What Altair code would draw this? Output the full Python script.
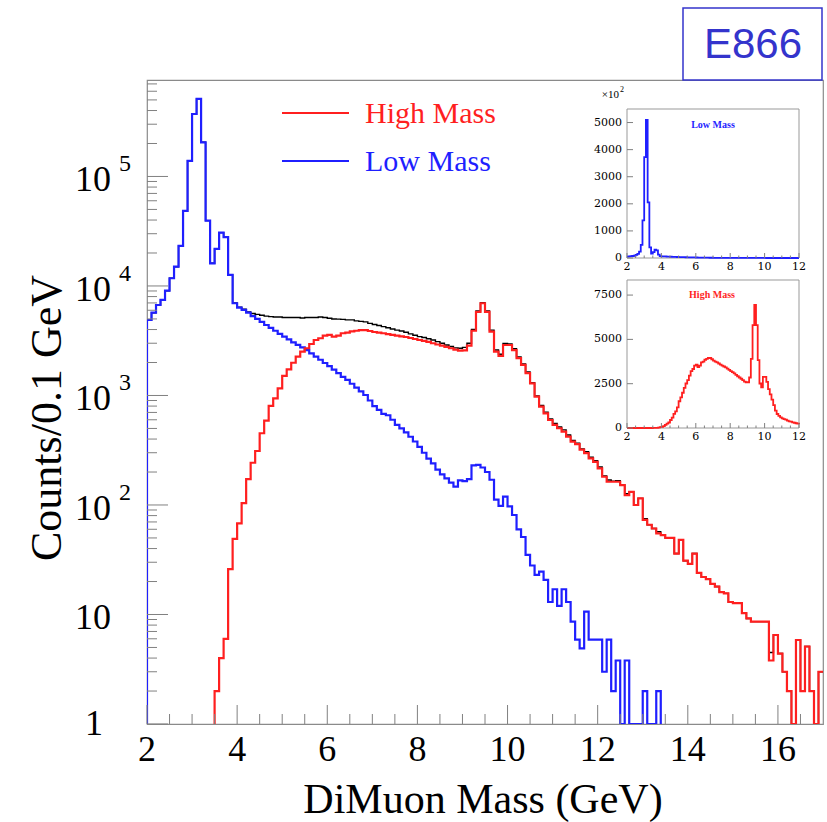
import altair as alt
import pandas as pd

# ---------------- data (0.1 GeV bins, lower edges 2.0 ... 16.9) ----------------
MASS = [round(2.0 + 0.1 * i, 1) for i in range(150)]

LOW_MASS = [
    4890, 5700, 6700, 7450, 9050, 11760, 15000, 23200, 48400, 139000,          # 2.x
    372000, 510000, 205000, 39500, 16100, 21800, 30700, 27900, 12600, 6950,    # 3.x
    6340, 6040, 5700, 5300, 5000, 4700, 4400, 4150, 3900, 3650,                # 4.x
    3450, 3250, 3050, 2900, 2750, 2600, 2420, 2260, 2120, 1980,                # 5.x
    1850, 1720, 1600, 1480, 1390, 1280, 1180, 1090, 1010, 900,                 # 6.x
    800, 740, 680, 660, 600, 540, 500, 460, 420, 380,                          # 7.x
    340, 300, 265, 240, 210, 190, 175, 160, 147, 168,                          # 8.x
    165, 172, 230, 232, 220, 200, 170, 112, 98, 119,                           # 9.x
    97, 81, 60, 51, 35, 28, 23, 24.6, 20.7, 13,                                # 10.x
    17, 12, 17, 13, 8.6, 5.9, 4.9, 10.6, 5.9, 5.9,                             # 11.x
    5.9, 3, 5.9, 2, 3.8, 0, 3.8, 0, 0, 0,                                      # 12.x
    2, 0, 0, 2, 0, 0, 0, 0, 0, 0,                                              # 13.x
    0, 0, 0, 0, 0, 0, 0, 0, 0, 0,                                              # 14.x
    0, 0, 0, 0, 0, 0, 0, 0, 0, 0,                                              # 15.x
    0, 0, 0, 0, 0, 0, 0, 0, 0, 0,                                              # 16.x
]

HIGH_MASS = [
    0, 0, 0, 0, 0, 0, 0, 0, 0, 0,                                              # 2.x
    0, 0, 0, 0, 0, 2, 4, 6, 26, 49,                                            # 3.x
    68, 104, 172, 243, 311, 452, 589, 802, 942, 1160,                          # 4.x
    1510, 1730, 1990, 2260, 2510, 2700, 2950, 3210, 3330, 3520,                # 5.x
    3570, 3440, 3520, 3700, 3750, 3850, 3900, 3950, 3950, 3880,                # 6.x
    3800, 3750, 3700, 3640, 3580, 3520, 3470, 3420, 3350, 3280,                # 7.x
    3210, 3150, 3080, 3000, 2920, 2850, 2780, 2700, 2620, 2570,                # 8.x
    2580, 2850, 3900, 5800, 6950, 5800, 3830, 2510, 2300, 2890,                # 9.x
    2890, 2600, 2190, 1900, 1600, 1290, 975, 790, 687, 597,                    # 10.x
    538, 502, 467, 421, 379, 360, 320, 297, 267, 248,                          # 11.x
    216, 181, 163, 163, 163, 152, 123, 132, 100, 115,                          # 12.x
    73, 66, 61, 55, 53, 50, 50, 36, 48, 31,                                    # 13.x
    29, 36, 24, 22, 21, 19, 18, 16, 15.6, 13,                                  # 14.x
    12.7, 12.7, 10.3, 9.2, 8.6, 8.6, 8.6, 8.6, 3.8, 6.5,                       # 15.x
    4.4, 3.0, 2.0, 0, 5.85, 2, 5.1, 2, 0, 3,                                   # 16.x
]

TOTAL = [
    4890, 5700, 6700, 7450, 9050, 11760, 15000, 23200, 48400, 139000,          # 2.x
    372000, 510000, 205000, 39500, 16100, 21800, 30700, 27900, 12600, 7000,    # 3.x
    6400, 6150, 5800, 5600, 5500, 5400, 5300, 5250, 5200, 5200,                # 4.x
    5150, 5150, 5150, 5150, 5100, 5150, 5150, 5150, 5200, 5150,                # 5.x
    5080, 5000, 4980, 4950, 4900, 4900, 4800, 4750, 4700, 4550,                # 6.x
    4450, 4350, 4250, 4150, 4050, 3950, 3880, 3780, 3650, 3550,                # 7.x
    3450, 3380, 3300, 3210, 3100, 3000, 2890, 2800, 2720, 2700,                # 8.x
    2750, 3000, 4000, 5900, 7050, 5900, 3950, 2600, 2380, 2980,                # 9.x
    2960, 2680, 2250, 1940, 1640, 1310, 990, 810, 705, 610,                    # 10.x
    555, 515, 485, 435, 388, 366, 325, 307, 273, 254,                          # 11.x
    222, 184, 169, 165, 167, 152, 127, 132, 100, 115,                          # 12.x
    75, 66, 61, 57, 53, 50, 50, 36, 48, 31,                                    # 13.x
    29, 36, 24, 22, 21, 19, 18, 16, 15.6, 13,                                  # 14.x
    12.7, 12.7, 10.3, 9.2, 8.6, 8.6, 8.6, 8.6, 4.5, 6.5,                       # 15.x
    4.4, 3.0, 2.0, 1, 5.85, 2, 5.1, 2, 0, 3,                                   # 16.x
]

X_LABELS = [2, 4, 6, 8, 10, 12, 14, 16]
X_MINOR = [2.5, 3, 3.5, 4.5, 5, 5.5, 6.5, 7, 7.5, 8.5, 9, 9.5, 10.5, 11, 11.5,
           12.5, 13, 13.5, 14.5, 15, 15.5, 16.5]
Y_DECADES = [1, 10, 100, 1000, 10000, 100000]
Y_BASE = ["1", "10", "10", "10", "10", "10"]
Y_EXP = ["", "", "2", "3", "4", "5"]
Y_MINOR = [d * k for d in Y_DECADES for k in range(2, 10) if d * k <= 760000]

INSET_X = [2, 4, 6, 8, 10, 12]
INSET_X_MINOR = [2.5, 3, 3.5, 4.5, 5, 5.5, 6.5, 7, 7.5, 8.5, 9, 9.5, 10.5, 11, 11.5]
INSET_LOW_Y = [0, 100000, 200000, 300000, 400000, 500000]
INSET_LOW_YLAB = ["0", "1000", "2000", "3000", "4000", "5000"]
INSET_HIGH_Y = [0, 2500, 5000, 7500]
INSET_HIGH_YLAB = ["0", "2500", "5000", "7500"]

# ---------------- layout / style ----------------
W, H = 676, 644
SERIF = "Liberation Serif"
RED = "#ff1f1f"
BLUE = "#1f1fff"
GREY = "#808080"

XS = alt.Scale(domain=[2, 17], range=[0, W], nice=False, zero=False)
YS = alt.Scale(type="log", domain=[1, 760000], range=[H, 0], clamp=True, nice=False)
IX = alt.Scale(domain=[2, 12], range=[480, 652], nice=False, zero=False)
IY1 = alt.Scale(domain=[0, 550000], range=[178, 29], nice=False, zero=False)
IY2 = alt.Scale(domain=[0, 8350], range=[348, 200], nice=False, zero=False)


def hist_rows(values):
    nz = [k for k, v in enumerate(values) if v > 0]
    first, last = nz[0], nz[-1]
    rows = [{"i": -1, "m": MASS[first], "v": 0}]
    for k in range(first, last + 1):
        rows.append({"i": k, "m": MASS[k], "v": values[k]})
    if last == len(values) - 1:
        rows.append({"i": last + 1, "m": 17.0, "v": values[last]})
    else:
        rows.append({"i": last + 1, "m": MASS[last + 1], "v": 0})
    return pd.DataFrame(rows)


def step(values, color, width):
    return (
        alt.Chart(hist_rows(values))
        .transform_calculate(vp="max(datum.v, 0.3)")
        .mark_line(interpolate="step-after", color=color, strokeWidth=width, clip=True)
        .encode(
            x=alt.X("m:Q", scale=XS, axis=None),
            y=alt.Y("vp:Q", scale=YS, axis=None),
            order="i:Q",
        )
    )


def inset_step(values, yscale, color):
    df = pd.DataFrame({"i": list(range(len(MASS))), "m": MASS, "v": values})
    return (
        alt.Chart(df)
        .transform_filter("datum.m <= 12")
        .mark_line(interpolate="step-after", color=color, strokeWidth=1.8)
        .encode(
            x=alt.X("m:Q", scale=IX, axis=None),
            y=alt.Y("v:Q", scale=yscale, axis=None),
            order="i:Q",
        )
    )


def one(text):
    return pd.DataFrame({"t": [text]})


layers = []

# main histograms
layers.append(step(TOTAL, "black", 1.4))
layers.append(step(LOW_MASS, BLUE, 2.2))
layers.append(step(HIGH_MASS, RED, 2.2))

# main x ticks (inside)
xmaj = pd.DataFrame({"m": X_LABELS})
xmin = pd.DataFrame({"m": X_MINOR})
layers.append(alt.Chart(xmaj).mark_rule(color=GREY, strokeWidth=1).encode(
    x=alt.X("m:Q", scale=XS, axis=None), y=alt.value(H), y2=alt.value(H - 19)))
layers.append(alt.Chart(xmin).mark_rule(color=GREY, strokeWidth=1).encode(
    x=alt.X("m:Q", scale=XS, axis=None), y=alt.value(H), y2=alt.value(H - 10)))

# main y ticks (inside)
ymaj = pd.DataFrame({"v": Y_DECADES, "base": Y_BASE, "exp": Y_EXP})
ymin = pd.DataFrame({"v": Y_MINOR})
layers.append(alt.Chart(ymaj).mark_rule(color=GREY, strokeWidth=1).encode(
    y=alt.Y("v:Q", scale=YS, axis=None), x=alt.value(0), x2=alt.value(21)))
layers.append(alt.Chart(ymin).mark_rule(color=GREY, strokeWidth=1).encode(
    y=alt.Y("v:Q", scale=YS, axis=None), x=alt.value(0), x2=alt.value(10)))

# x tick labels
xlab = pd.DataFrame({"m": X_LABELS, "lab": [str(v) for v in X_LABELS]})
layers.append(alt.Chart(xlab).mark_text(font=SERIF, fontSize=36, align="center",
                                        baseline="middle", color="black").encode(
    x=alt.X("m:Q", scale=XS, axis=None), y=alt.value(H + 26), text="lab:N"))

# y tick labels (10 with superscript exponent)
layers.append(alt.Chart(ymaj).transform_filter("datum.v > 1").mark_text(
    font=SERIF, fontSize=36, align="right", baseline="middle", dy=4, color="black").encode(
    y=alt.Y("v:Q", scale=YS, axis=None), x=alt.value(-36), text="base:N"))
layers.append(alt.Chart(ymaj).transform_filter("datum.v == 1").mark_text(
    font=SERIF, fontSize=36, align="center", baseline="middle", dy=0, color="black").encode(
    y=alt.Y("v:Q", scale=YS, axis=None), x=alt.value(-53), text="base:N"))
layers.append(alt.Chart(ymaj).transform_filter("datum.v > 10").mark_text(
    font=SERIF, fontSize=24, align="left", baseline="middle", dy=-12, color="black").encode(
    y=alt.Y("v:Q", scale=YS, axis=None), x=alt.value(-28), text="exp:N"))

# axis titles
layers.append(alt.Chart(one("DiMuon Mass (GeV)")).mark_text(
    font=SERIF, fontSize=42, align="center", baseline="middle", color="black").encode(
    x=alt.value(336), y=alt.value(H + 76), text="t:N"))
layers.append(alt.Chart(one("Counts/0.1 GeV")).mark_text(
    font=SERIF, fontSize=44, align="center", baseline="middle", angle=270, color="black").encode(
    x=alt.value(-99), y=alt.value(338), text="t:N"))

# legend
layers.append(alt.Chart(one("High Mass")).mark_rule(color=RED, strokeWidth=2.2).encode(
    x=alt.value(135), x2=alt.value(202), y=alt.value(33)))
layers.append(alt.Chart(one("Low Mass")).mark_rule(color=BLUE, strokeWidth=2.2).encode(
    x=alt.value(135), x2=alt.value(202), y=alt.value(81)))
layers.append(alt.Chart(one("High Mass")).mark_text(
    font=SERIF, fontSize=30, align="left", baseline="middle", color=RED).encode(
    x=alt.value(218), y=alt.value(34), text="t:N"))
layers.append(alt.Chart(one("Low Mass")).mark_text(
    font=SERIF, fontSize=30, align="left", baseline="middle", color=BLUE).encode(
    x=alt.value(218), y=alt.value(82), text="t:N"))

# ---------------- insets ----------------
for (y0, y1) in [(29, 178), (200, 348)]:
    layers.append(alt.Chart(one("frame")).mark_rect(fill="white", stroke="#999999",
                                                   strokeWidth=1).encode(
        x=alt.value(480), x2=alt.value(652), y=alt.value(y0), y2=alt.value(y1)))

layers.append(inset_step(LOW_MASS, IY1, BLUE))
layers.append(inset_step(HIGH_MASS, IY2, RED))

ixmaj = pd.DataFrame({"m": INSET_X, "lab": [str(v) for v in INSET_X]})
ixmin = pd.DataFrame({"m": INSET_X_MINOR})
for (ybot, lab_y) in [(178, 187), (348, 357)]:
    layers.append(alt.Chart(ixmaj).mark_rule(color=GREY, strokeWidth=1).encode(
        x=alt.X("m:Q", scale=IX, axis=None), y=alt.value(ybot), y2=alt.value(ybot - 5)))
    layers.append(alt.Chart(ixmin).mark_rule(color=GREY, strokeWidth=1).encode(
        x=alt.X("m:Q", scale=IX, axis=None), y=alt.value(ybot), y2=alt.value(ybot - 2.5)))
    layers.append(alt.Chart(ixmaj).mark_text(font="DejaVu Serif", fontSize=11, align="center",
                                             baseline="middle", color="black").encode(
        x=alt.X("m:Q", scale=IX, axis=None), y=alt.value(lab_y), text="lab:N"))

iy1 = pd.DataFrame({"v": INSET_LOW_Y, "lab": INSET_LOW_YLAB})
iy2 = pd.DataFrame({"v": INSET_HIGH_Y, "lab": INSET_HIGH_YLAB})
for df, sc in [(iy1, IY1), (iy2, IY2)]:
    layers.append(alt.Chart(df).mark_rule(color=GREY, strokeWidth=1).encode(
        y=alt.Y("v:Q", scale=sc, axis=None), x=alt.value(480), x2=alt.value(486)))
    layers.append(alt.Chart(df).mark_text(font="DejaVu Serif", fontSize=11, align="right",
                                          baseline="middle", color="black").encode(
        y=alt.Y("v:Q", scale=sc, axis=None), x=alt.value(475), text="lab:N"))

layers.append(alt.Chart(one("\u00d710")).mark_text(font=SERIF, fontSize=11, align="right",
                                                  baseline="middle", color="black").encode(
    x=alt.value(472), y=alt.value(15), text="t:N"))
layers.append(alt.Chart(one("2")).mark_text(font=SERIF, fontSize=8, align="left",
                                           baseline="middle", color="black").encode(
    x=alt.value(473), y=alt.value(10), text="t:N"))
layers.append(alt.Chart(one("Low Mass")).mark_text(font=SERIF, fontSize=10, fontWeight="bold",
                                                  align="center", baseline="middle",
                                                  color=BLUE).encode(
    x=alt.value(566), y=alt.value(45), text="t:N"))
layers.append(alt.Chart(one("High Mass")).mark_text(font=SERIF, fontSize=10, fontWeight="bold",
                                                   align="center", baseline="middle",
                                                   color=RED).encode(
    x=alt.value(565), y=alt.value(215), text="t:N"))

# E866 box
layers.append(alt.Chart(one("E866")).mark_rect(fill="white", stroke="#3434cc",
                                              strokeWidth=1.5).encode(
    x=alt.value(536), x2=alt.value(675), y=alt.value(-72), y2=alt.value(0)))
layers.append(alt.Chart(one("E866")).mark_text(font="Liberation Sans", fontSize=42,
                                              align="center", baseline="middle",
                                              color="#3434cc").encode(
    x=alt.value(606), y=alt.value(-35), text="t:N"))

chart = (
    alt.layer(*layers)
    .resolve_scale(x="independent", y="independent")
    .properties(
        width=W,
        height=H,
        padding={"left": 147, "top": 80, "right": 4, "bottom": 98},
        autosize=alt.AutoSizeParams(type="none"),
        background="white",
    )
    .configure_view(stroke="#8a8a8a", strokeWidth=1.2)
)

chart.save("out.html", embed_options={"renderer": "svg", "actions": False})
